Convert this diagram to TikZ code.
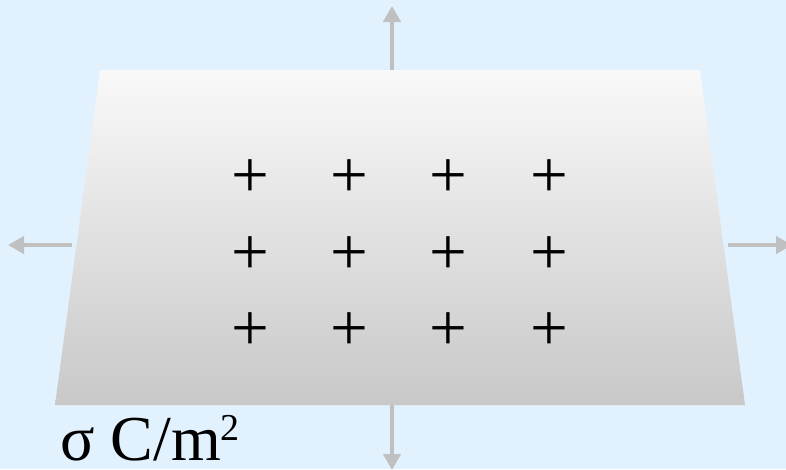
\documentclass[tikz,border=0pt]{standalone}
\usepackage{fontspec}
\setmainfont{Liberation Serif}
\usetikzlibrary{arrows.meta}
\definecolor{bgblue}{RGB}{225,242,254}
\definecolor{arrowgrey}{RGB}{192,192,192}
\definecolor{sheettop}{RGB}{249,249,249}
\definecolor{sheetbot}{RGB}{200,200,200}
\tikzset{
  fieldarrow/.style={draw=arrowgrey, line width=4pt, -{Triangle[length=16pt,width=17pt]}},
  charge/.style={inner sep=0pt, font=\fontsize{67}{67}\selectfont},
}
\begin{document}
\begin{tikzpicture}[x=1pt,y=-1pt]
\fill[bgblue] (0,0) rectangle (786,469);
\useasboundingbox (0,0) rectangle (786,469);
\clip (0,0) rectangle (786,469);
% sheet
\shade[top color=sheettop, bottom color=sheetbot] (100,70) -- (700,70) -- (745,405) -- (55,405) -- cycle;
% arrow anchors
\coordinate (topedge) at (392,70);
\coordinate (topend) at (392,6);
\coordinate (botedge) at (392,405);
\coordinate (botend) at (392,470);
\coordinate (leftedge) at (72,245);
\coordinate (leftend) at (8,245);
\coordinate (rightedge) at (728,245);
\coordinate (rightend) at (792,245);
\draw[fieldarrow] (topedge) -- (topend);
\draw[fieldarrow] (botedge) -- (botend);
\draw[fieldarrow] (leftedge) -- (leftend);
\draw[fieldarrow] (rightedge) -- (rightend);
% charges
\foreach \c [count=\i] in {250,349,448,549}{
  \foreach \r [count=\j] in {178.5,255.5,331.5}{
    \node[charge] (p\i\j) at (\c,\r) {+};
  }
}
% label
\node[anchor=base west, inner sep=0pt, font=\fontsize{64}{70}\selectfont] (label) at (60,460) {σ C/m\raisebox{20pt}{\fontsize{38}{38}\selectfont 2}};
\end{tikzpicture}
\end{document}
